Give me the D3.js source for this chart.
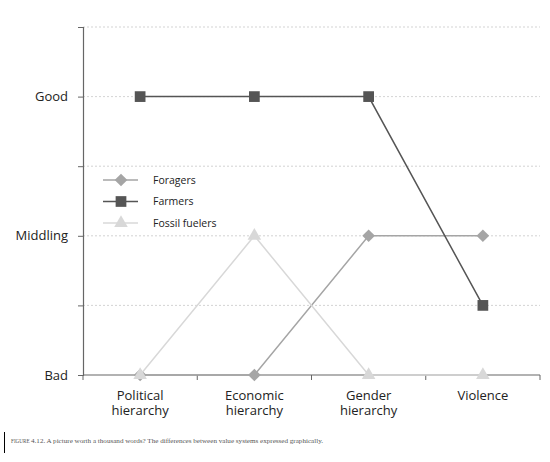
<!DOCTYPE html>
<html lang="en">
<head>
  <meta charset="utf-8">
  <title>Value systems</title>
  <script src="https://d3js.org/d3.v7.min.js"></script>
  <style>
    body { margin: 0; background: #fff; }
    .chart text { font-family: "Open Sans", "Noto Sans", sans-serif; fill: #222; }
    .chart text.caption { font-family: "Liberation Serif", "DejaVu Serif", serif; fill: #555; }
  </style>
</head>
<body>
  <div id="chart" class="chart"></div>

  <script>
    "use strict"

    // categorias e valores (0 = Bad, 1 = Middling, 2 = Good)
    const categorias = ["Political|hierarchy", "Economic|hierarchy", "Gender|hierarchy", "Violence"];
    const foragers = [0, 0, 1, 1];
    const farmers = [2, 2, 2, 0.5];
    const fossil = [0, 1, 0, 0];
    const yTicks = [0, 0.5, 1, 1.5, 2, 2.5];
    const yLabels = {0: "Bad", 1: "Middling", 2: "Good"};
    const nomesSeries = ["Foragers", "Farmers", "Fossil fuelers"];

    const largura = 550, altura = 462;
    const margin = {top: 27, left: 83};
    const larguraVis = 540 - margin.left,
          alturaVis = 375 - margin.top;

    const svg = d3.select("#chart").append("svg")
        .attr("width", largura)
        .attr("height", altura);

    const g = svg.append("g")
        .attr("transform", "translate(" + margin.left + "," + margin.top + ")");

    const x = d3.scaleBand()
        .domain(categorias)
        .range([0, larguraVis]);

    const y = d3.scaleLinear()
        .domain([0, 2.5])
        .range([alturaVis, 0]);

    // grade pontilhada
    g.append("g").selectAll("line")
        .data(yTicks.filter(t => t > 0))
        .enter().append("line")
          .attr("x1", 0).attr("x2", larguraVis)
          .attr("y1", d => y(d)).attr("y2", d => y(d))
          .attr("stroke", "#c8c8c8")
          .attr("stroke-width", 0.8)
          .attr("stroke-dasharray", "2,2");

    // eixo y
    const eixoY = g.append("g")
        .call(d3.axisLeft(y).tickValues(yTicks).tickSize(5).tickFormat(d => yLabels[d] || ""));
    eixoY.select(".domain").attr("stroke", "#666").attr("stroke-width", 1.2);
    eixoY.selectAll(".tick line").attr("stroke", "#666");
    eixoY.selectAll(".tick text")
        .attr("x", -15)
        .style("font-size", "13px");

    // eixo x
    const eixoX = g.append("g")
        .attr("transform", "translate(0," + alturaVis + ")");
    eixoX.append("line")
        .attr("x1", 0).attr("x2", larguraVis)
        .attr("stroke", "#666").attr("stroke-width", 1.2);
    eixoX.selectAll(".xt")
        .data(categorias.map(c => x(c)).concat([larguraVis]))
        .enter().append("line")
          .attr("x1", d => d).attr("x2", d => d)
          .attr("y1", 0).attr("y2", 5)
          .attr("stroke", "#666");
    const rotulos = eixoX.selectAll(".xl")
        .data(categorias)
        .enter().append("text")
          .attr("text-anchor", "middle")
          .attr("transform", d => "translate(" + (x(d) + x.bandwidth() / 2) + ",25)")
          .style("font-size", "13px");
    rotulos.each(function (d) {
      d3.select(this).selectAll("tspan")
        .data(d.split("|"))
        .enter().append("tspan")
          .attr("x", 0)
          .attr("dy", (p, i) => i === 0 ? 0 : 15)
          .text(p => p);
    });

    const cx = c => x(c) + x.bandwidth() / 2;

    const series = [
      {nome: nomesSeries[0], valores: foragers, cor: "#a5a5a5", simbolo: d3.symbolSquare, tam: 80, rot: 45},
      {nome: nomesSeries[1], valores: farmers, cor: "#555555", simbolo: d3.symbolSquare, tam: 115, rot: 0},
      {nome: nomesSeries[2], valores: fossil, cor: "#d8d8d8", simbolo: d3.symbolTriangle, tam: 80, rot: 0}
    ];

    const linha = d3.line()
        .x((v, i) => cx(categorias[i]))
        .y(v => y(v));

    series.forEach(s => {
      g.append("path")
        .attr("d", linha(s.valores))
        .attr("fill", "none")
        .attr("stroke", s.cor)
        .attr("stroke-width", 1.5);
      g.selectAll(null)
        .data(s.valores)
        .enter().append("path")
          .attr("d", d3.symbol().type(s.simbolo).size(s.tam))
          .attr("transform", (v, i) => "translate(" + cx(categorias[i]) + "," + y(v) + ") rotate(" + s.rot + ")")
          .attr("fill", s.cor);
    });

    // legenda
    const legenda = svg.append("g").attr("transform", "translate(103,180)");
    series.forEach((s, i) => {
      const item = legenda.append("g").attr("transform", "translate(0," + (i * 21.5) + ")");
      item.append("line")
        .attr("x1", 0).attr("x2", 35)
        .attr("stroke", s.cor).attr("stroke-width", 1.5);
      item.append("path")
        .attr("d", d3.symbol().type(s.simbolo).size(s.tam))
        .attr("transform", "translate(18,0) rotate(" + s.rot + ")")
        .attr("fill", s.cor);
      item.append("text")
        .attr("x", 50).attr("dy", "0.35em")
        .style("font-size", "10.5px")
        .text(s.nome);
    });

    // legenda da figura
    svg.append("line")
        .attr("x1", 4.5).attr("x2", 4.5)
        .attr("y1", 432).attr("y2", 453)
        .attr("stroke", "#000").attr("stroke-width", 1);
    const cap = svg.append("text")
        .attr("class", "caption")
        .attr("x", 11).attr("y", 443)
        .style("font-size", "7.1px");
    cap.append("tspan").style("font-size", "5.2px").text("FIGURE ");
    cap.append("tspan").text("4.12. A picture worth a thousand words? The differences between value systems expressed graphically.");
  </script>
</body>
</html>
